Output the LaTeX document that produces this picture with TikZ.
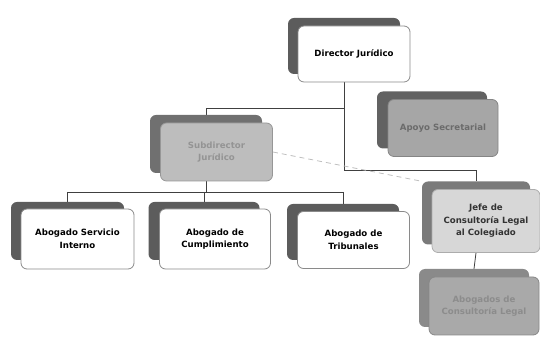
\documentclass[tikz,border=0pt]{standalone}
\usepackage{fontspec}
\setmainfont{DejaVu Sans}
\usetikzlibrary{backgrounds}
\definecolor{backA}{HTML}{5C5C5C}
\definecolor{edgeA}{HTML}{8A8A8A}
\definecolor{apoyoF}{HTML}{A6A6A6}
\definecolor{apoyoB}{HTML}{626262}
\definecolor{subF}{HTML}{BDBDBD}
\definecolor{subB}{HTML}{707070}
\definecolor{jefeF}{HTML}{D7D7D7}
\definecolor{jefeB}{HTML}{7A7A7A}
\definecolor{consF}{HTML}{A9A9A9}
\definecolor{consB}{HTML}{8A8A8A}
\tikzset{
  boxbase/.style={rectangle, rounded corners=6pt, inner sep=2pt, align=center,
    font=\fontsize{8.6}{12.5}\selectfont\bfseries},
  frontbox/.style={boxbase, draw=edgeA, line width=0.8pt, fill=white, text=black},
  backbox/.style={boxbase, draw=none, fill=backA},
  conn/.style={draw=black!75, line width=0.8pt},
  dashconn/.style={draw=black!25, line width=0.8pt, dash pattern=on 5pt off 4pt},
}
\begin{document}
\begin{tikzpicture}[x=1pt,y=1pt]
\useasboundingbox (0,0) rectangle (540,339);
% Director
\node[backbox, minimum width=112pt, minimum height=56pt] (dir-b) at (344,293) {};
\node[frontbox, minimum width=112pt, minimum height=56pt] (dir) at (354,285) {Director Jurídico};
% Apoyo
\node[backbox, fill=apoyoB, minimum width=110pt, minimum height=57pt] (apo-b) at (432,219) {};
\node[frontbox, draw=apoyoF!80!black, fill=apoyoF, text=black!58, minimum width=110pt, minimum height=57pt] (apo) at (443,211) {Apoyo Secretarial};
% Subdirector
\node[backbox, fill=subB, minimum width=112pt, minimum height=58pt] (sub-b) at (206,195) {};
\node[frontbox, draw=subF!80!black, fill=subF, text=black!42, minimum width=112pt, minimum height=58pt] (sub) at (216.5,187) {Subdirector\\Jurídico};
% Jefe
\node[backbox, fill=jefeB, minimum width=108pt, minimum height=63pt] (jefe-b) at (476,126) {};
\node[frontbox, draw=jefeF!80!black, fill=jefeF, text=black!80, minimum width=108pt, minimum height=63pt] (jefe) at (486,118) {Jefe de\\Consultoría Legal\\al Colegiado};
% Abogados de Consultoria
\node[backbox, fill=consB, minimum width=110pt, minimum height=58pt] (cons-b) at (474,41) {};
\node[frontbox, draw=consF!80!black, fill=consF, text=black!45, minimum width=110pt, minimum height=58pt] (cons) at (484,33) {Abogados de\\Consultoría Legal};
% Bottom row
\node[backbox, minimum width=113pt, minimum height=58pt] (b1-b) at (67.5,108) {};
\node[frontbox, minimum width=113pt, minimum height=60pt] (b1) at (77.5,100) {Abogado Servicio\\Interno};
\node[backbox, minimum width=111pt, minimum height=58pt] (b2-b) at (204,108) {};
\node[frontbox, minimum width=111pt, minimum height=60pt] (b2) at (215,100) {Abogado de\\Cumplimiento};
\node[backbox, minimum width=112pt, minimum height=56pt] (b3-b) at (343,107) {};
\node[frontbox, minimum width=112pt, minimum height=57pt] (b3) at (353.5,99) {Abogado de\\Tribunales};
\begin{pgfonlayer}{background}
\coordinate (jA) at (dir-b.south |- 0,169);
\coordinate (jB) at (jefe-b.north |- 0,169);
\coordinate (sA) at (dir-b.south |- 0,231);
\coordinate (sB) at (sub-b.north |- 0,231);
\coordinate (r0) at (sub-b.south |- 0,147);
\coordinate (r1) at (b1-b.north |- 0,147);
\coordinate (r2) at (b2-b.north |- 0,147);
\coordinate (r3) at (b3-b.north |- 0,147);
\coordinate (cA) at (jefe-b.north |- jefe.south);
\draw[conn] (dir-b.south) -- (jA) -- (jB) -- (jefe-b.north);
\draw[conn] (sA) -- (sB) -- (sub-b.north);
\draw[conn] (sub-b.south) -- (r0);
\draw[conn] (r1) -- (r3);
\draw[conn] (r1) -- (b1-b.north);
\draw[conn] (r2) -- (b2-b.north);
\draw[conn] (r3) -- (b3-b.north);
\draw[conn] (cA) -- (cons-b.north);
\end{pgfonlayer}
\draw[dashconn] (sub.east) -- (jefe-b.north west);
\end{tikzpicture}
\end{document}
